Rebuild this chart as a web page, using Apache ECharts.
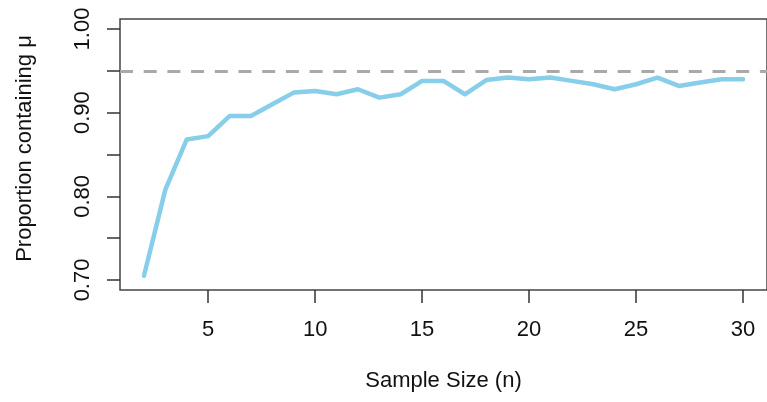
<!DOCTYPE html>
<html>
<head>
<meta charset="utf-8">
<script src="https://cdn.jsdelivr.net/npm/echarts@6/dist/echarts.min.js"></script>
<style>
  html, body { margin: 0; padding: 0; background: #fff; }
  #main { width: 767px; height: 402px; }
</style>
</head>
<body>
<div id="main"></div>
<script>
// sample size n and the share of intervals that contained mu
var sampleSizes = [2, 3, 4, 5, 6, 7, 8, 9, 10, 11, 12, 13, 14, 15, 16,
  17, 18, 19, 20, 21, 22, 23, 24, 25, 26, 27, 28, 29, 30];
var proportions = [0.705, 0.808, 0.868, 0.872, 0.896, 0.896, 0.910, 0.924, 0.926, 0.922,
  0.928, 0.918, 0.922, 0.938, 0.938, 0.922, 0.939, 0.942, 0.940, 0.942,
  0.938, 0.934, 0.928, 0.934, 0.942, 0.932, 0.936, 0.940, 0.940];
var target = 0.95;

var xTicks = [5, 10, 15, 20, 25, 30];
var yTicks = [0.70, 0.75, 0.80, 0.85, 0.90, 0.95, 1.00];
var yLabels = [0.70, 0.80, 0.90, 1.00];

var font = 'Liberation Sans, Arial, sans-serif';
var chart = echarts.init(document.getElementById('main'));

chart.setOption({
  animation: false,
  grid: {
    left: 120,
    right: -4,
    top: 19,
    bottom: 112,
    show: true,
    borderColor: '#444',
    borderWidth: 1.5,
    backgroundColor: 'transparent'
  },
  xAxis: {
    type: 'value',
    min: 0.88,
    max: 31.12,
    name: 'Sample Size (n)',
    nameLocation: 'middle',
    nameGap: 80,
    nameTextStyle: { fontFamily: font, fontSize: 22, color: '#111' },
    axisLine: { show: false },
    splitLine: { show: false },
    axisTick: {
      show: true, length: 13, inside: false,
      customValues: xTicks,
      lineStyle: { color: '#333', width: 1.5 }
    },
    axisLabel: {
      customValues: xTicks,
      margin: 29,
      fontFamily: font, fontSize: 22, color: '#111'
    }
  },
  yAxis: {
    type: 'value',
    min: 0.688,
    max: 1.012,
    name: 'Proportion containing μ',
    nameLocation: 'middle',
    nameGap: 84,
    nameTextStyle: { fontFamily: font, fontSize: 22, color: '#111', padding: [0, 0, 0, 12] },
    axisLine: { show: false },
    splitLine: { show: false },
    axisTick: {
      show: true, length: 13,
      customValues: yTicks,
      lineStyle: { color: '#333', width: 1.5 }
    },
    axisLabel: {
      customValues: yLabels,
      rotate: 90,
      margin: 26,
      fontFamily: font, fontSize: 22, color: '#111',
      formatter: function (v) { return v.toFixed(2); }
    }
  },
  series: [{
    type: 'line',
    data: sampleSizes.map(function (n, i) { return [n, proportions[i]]; }),
    showSymbol: false,
    lineStyle: { color: '#87CEEB', width: 4.5, cap: 'round', join: 'round' },
    markLine: {
      silent: true,
      symbol: 'none',
      label: { show: false },
      lineStyle: { color: '#A9A9A9', width: 3, type: [13, 10.7] },
      data: [{ yAxis: target }]
    }
  }]
});
</script>
</body>
</html>
